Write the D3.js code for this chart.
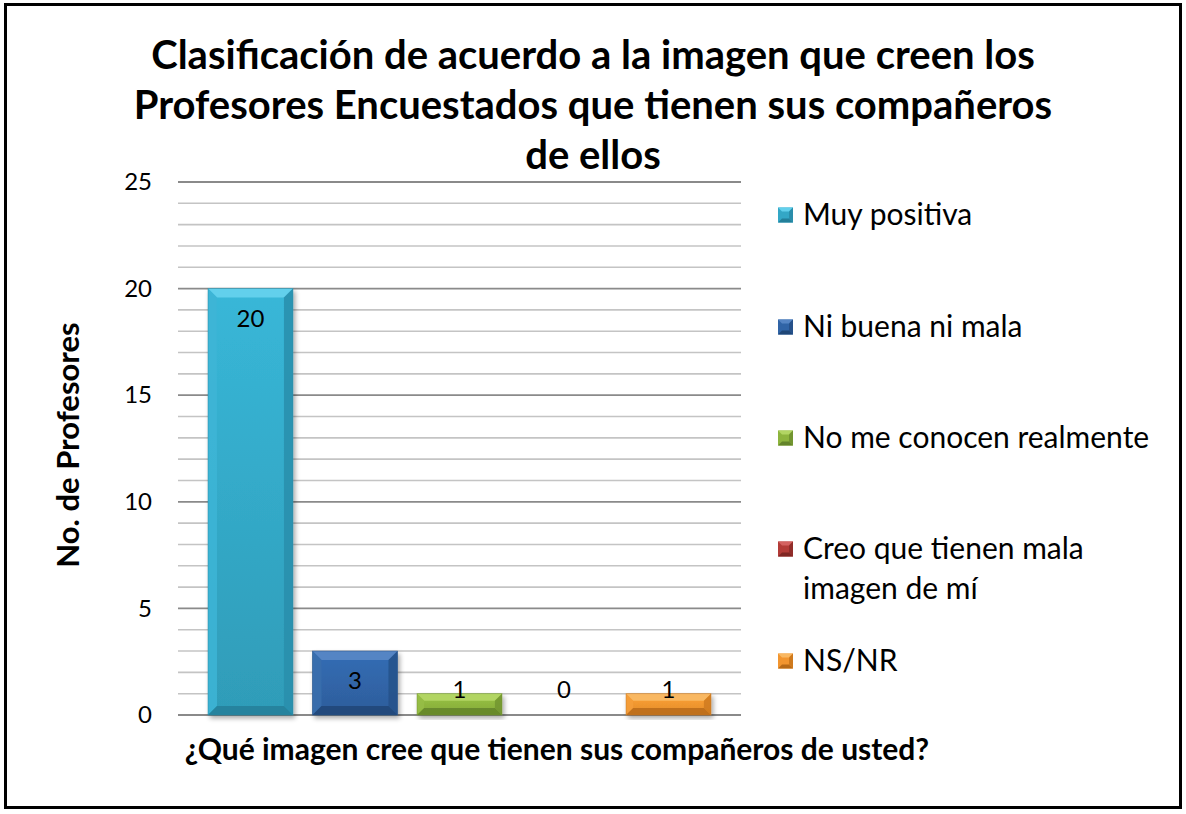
<!DOCTYPE html>
<html><head><meta charset="utf-8">
<script src="https://cdn.jsdelivr.net/npm/d3@7"></script>
<style>
html,body{margin:0;padding:0;background:#fff;}
svg text{font-family:Lato,"Open Sans",sans-serif;fill:#000;}
</style></head>
<body>
<svg id="c" width="1186" height="814"></svg>
<script>
// ---- data ----
const titleLines = ["Clasificación de acuerdo a la imagen que creen los","Profesores Encuestados que tienen sus compañeros","de ellos"];
const seriesNames = ["Muy positiva","Ni buena ni mala","No me conocen realmente","Creo que tienen mala imagen de mí","NS/NR"];
const legendLines = [["Muy positiva"],["Ni buena ni mala"],["No me conocen realmente"],["Creo que tienen mala","imagen de mí"],["NS/NR"]];
const values = [20, 3, 1, 0, 1];
const yTicks = [0, 5, 10, 15, 20, 25];
const yTitle = "No. de Profesores";
const xTitle = "¿Qué imagen cree que tienen sus compañeros de usted?";
// colours: face, top, left, right, bottom
const colors = [
  {face:"#33a7c6", top:"#62d0ec", left:"#3db5d6", right:"#2a8eab", bottom:"#237f99"},
  {face:"#3064a6", top:"#5585c4", left:"#386ead", right:"#26518a", bottom:"#1f4677"},
  {face:"#8db43d", top:"#b2d563", left:"#96bd45", right:"#729530", bottom:"#63842a"},
  {face:"#b33b37", top:"#d46260", left:"#bb4340", right:"#912d2a", bottom:"#7f2623"},
  {face:"#f2952f", top:"#f9b862", left:"#f49e3b", right:"#cf7a1d", bottom:"#b86a17"}
];

const svg = d3.select("#c");
const defs = svg.append("defs");
const sh = defs.append("filter").attr("id","shadow").attr("x","-20%").attr("y","-20%").attr("width","140%").attr("height","140%");
sh.append("feGaussianBlur").attr("in","SourceAlpha").attr("stdDeviation",2.5);
sh.append("feOffset").attr("dx",2).attr("dy",3).attr("result","o");
sh.append("feComponentTransfer").append("feFuncA").attr("type","linear").attr("slope",0.35);
const mg = sh.append("feMerge"); mg.append("feMergeNode"); mg.append("feMergeNode").attr("in","SourceGraphic");

colors.forEach((c,i)=>{
  const g = defs.append("linearGradient").attr("id","g"+i).attr("x1",0).attr("y1",0).attr("x2",0).attr("y2",1);
  g.append("stop").attr("offset",0).attr("stop-color",d3.color(c.face).brighter(0.25));
  g.append("stop").attr("offset",1).attr("stop-color",d3.color(c.face).darker(0.2));
});

// outer frame
svg.append("rect").attr("x",5.5).attr("y",4.5).attr("width",1175).attr("height",803)
  .attr("fill","#fff").attr("stroke","#000").attr("stroke-width",3);

// title
svg.append("g").selectAll("text").data(titleLines).join("text")
  .attr("x",593).attr("y",(d,i)=>69+i*50).attr("text-anchor","middle")
  .attr("font-size",40).attr("font-weight","bold").text(d=>d);

// scales
const plot = {left:178, right:741, top:182, bottom:715};
const y = d3.scaleLinear().domain([0,25]).range([plot.bottom, plot.top]);
const x = d3.scaleBand().domain(seriesNames).range([plot.left, plot.right]).paddingInner(0.187).paddingOuter(0.287);

// gridlines (minor every 1, major every 5)
const minor = d3.range(0,26,1).filter(v=>v%5!==0);
svg.append("g").selectAll("line").data(minor).join("line")
  .attr("x1",plot.left).attr("x2",plot.right).attr("y1",d=>y(d)).attr("y2",d=>y(d))
  .attr("stroke","#c4c4c4").attr("stroke-width",1.6);
svg.append("g").selectAll("line").data(yTicks).join("line")
  .attr("x1",plot.left).attr("x2",plot.right).attr("y1",d=>y(d)).attr("y2",d=>y(d))
  .attr("stroke","#8a8a8a").attr("stroke-width",1.8);

// y axis labels
const yAxis = d3.axisLeft(y).tickValues(yTicks).tickSize(0).tickPadding(26).tickFormat(d3.format("d"));
const ya = svg.append("g").attr("transform",`translate(${plot.left},0)`).call(yAxis);
ya.select(".domain").remove();
ya.selectAll("text").attr("font-size",24).attr("fill","#000").attr("font-family","Lato,sans-serif");

// bars with bevel
function bevelBar(g, bx, by, w, h, c, i, b){
  const grp = g.append("g").attr("filter","url(#shadow)");
  grp.append("rect").attr("x",bx).attr("y",by).attr("width",w).attr("height",h).attr("fill",`url(#g${i})`);
  const P = pts => pts.map(p=>p.join(",")).join(" ");
  grp.append("polygon").attr("points",P([[bx,by],[bx+w,by],[bx+w-b,by+b],[bx+b,by+b]])).attr("fill",c.top);
  grp.append("polygon").attr("points",P([[bx,by],[bx+b,by+b],[bx+b,by+h-b],[bx,by+h]])).attr("fill",c.left).attr("opacity",0.85);
  grp.append("polygon").attr("points",P([[bx+w,by],[bx+w,by+h],[bx+w-b,by+h-b],[bx+w-b,by+b]])).attr("fill",c.right).attr("opacity",0.85);
  grp.append("polygon").attr("points",P([[bx,by+h],[bx+b,by+h-b],[bx+w-b,by+h-b],[bx+w,by+h]])).attr("fill",c.bottom).attr("opacity",0.85);
  grp.append("rect").attr("x",bx).attr("y",by).attr("width",w).attr("height",h).attr("fill","none")
    .attr("stroke",d3.color(c.face).darker(0.6)).attr("stroke-width",0.8).attr("opacity",0.6);
}
const barsG = svg.append("g");
seriesNames.forEach((s,i)=>{
  const v = values[i];
  if (v<=0) return;
  const h = y(0)-y(v);
  bevelBar(barsG, x(s), y(v), x.bandwidth(), h, colors[i], i, Math.min(9, h/3));
});

// data labels (inside end, clamped)
svg.append("g").selectAll("text").data(values).join("text")
  .attr("x",(d,i)=>x(seriesNames[i])+x.bandwidth()/2)
  .attr("y",d=>Math.min(y(d)+38, y(0)-17))
  .attr("text-anchor","middle").attr("font-size",24).text(d=>d);

// y title
svg.append("text").attr("transform","translate(79,445) rotate(-90)").attr("text-anchor","middle")
  .attr("font-size",31).attr("font-weight","bold").text(yTitle);
// x title
svg.append("text").attr("x",557).attr("y",760).attr("text-anchor","middle")
  .attr("font-size",30).attr("font-weight","bold").text(xTitle);

// legend
const legY = [215, 327, 438, 549, 661];
const lg = svg.append("g");
legendLines.forEach((lines,i)=>{
  const g = lg.append("g").attr("transform",`translate(778,${legY[i]})`);
  const c = colors[i], s = 15, b = 4;
  const P = pts => pts.map(p=>p.join(",")).join(" ");
  g.append("rect").attr("x",0).attr("y",-s/2).attr("width",s).attr("height",s).attr("fill",c.face);
  g.append("polygon").attr("points",P([[0,-s/2],[s,-s/2],[s-b,-s/2+b],[b,-s/2+b]])).attr("fill",c.top);
  g.append("polygon").attr("points",P([[0,s/2],[b,s/2-b],[s-b,s/2-b],[s,s/2]])).attr("fill",c.bottom);
  g.append("polygon").attr("points",P([[s,-s/2],[s,s/2],[s-b,s/2-b],[s-b,-s/2+b]])).attr("fill",c.right);
  lines.forEach((t,j)=>{
    g.append("text").attr("x",25).attr("y",10+j*40).attr("font-size",30).text(t);
  });
});
</script>
</body></html>
